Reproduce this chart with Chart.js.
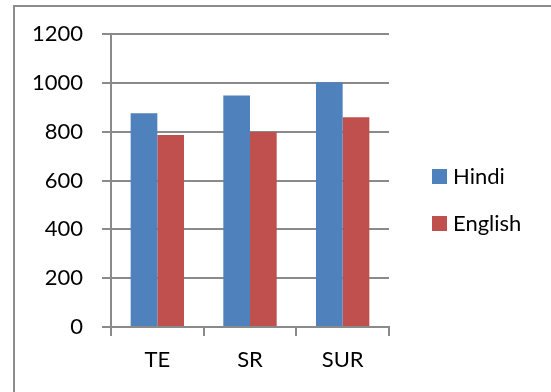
<!DOCTYPE html>
<html>
<head>
<meta charset="utf-8">
<script src="https://cdn.jsdelivr.net/npm/chart.js@4.4.1/dist/chart.umd.min.js"></script>
<style>
  html, body { margin: 0; padding: 0; background: #ffffff; }
  #wrap { position: relative; width: 551px; height: 392px; overflow: hidden; }
  #frame {
    position: absolute; left: 13px; top: 5px; width: 600px; height: 420px;
    border-left: 2px solid #8c8c8c; border-top: 2px solid #8c8c8c;
    box-sizing: border-box; pointer-events: none;
  }
  canvas { position: absolute; left: 0; top: 0; }
</style>
</head>
<body>
<div id="wrap">
  <div id="frame"></div>
  <canvas id="c" width="551" height="392"></canvas>
</div>
<script>
// Groups along the x axis
const categories = ['TE', 'SR', 'SUR'];
// Series
const seriesNames = ['Hindi', 'English'];
const hindiValues = [875, 948, 1002];
const englishValues = [786, 799, 859];
const seriesColors = ['#4F81BD', '#C0504D'];
// Value axis ticks
const yTicks = [0, 200, 400, 600, 800, 1000, 1200];

const FONT = 'Lato, "Open Sans", sans-serif';
const FONT_SIZE = 22;
const GRID = '#8a8a8a';

// Legend drawn beside the plot, using the datasets' own labels and colours
const sideLegend = {
  id: 'sideLegend',
  afterDraw(chart) {
    const ctx = chart.ctx;
    ctx.save();
    ctx.font = FONT_SIZE + 'px ' + FONT;
    ctx.textBaseline = 'middle';
    ctx.textAlign = 'left';
    chart.data.datasets.forEach((ds, i) => {
      const cy = 176 + i * 47;
      ctx.fillStyle = ds.backgroundColor;
      ctx.fillRect(432, cy - 7, 15, 15);
      ctx.fillStyle = '#000000';
      ctx.fillText(ds.label, 453, cy + 1);
    });
    ctx.restore();
  }
};

new Chart(document.getElementById('c'), {
  type: 'bar',
  data: {
    labels: categories,
    datasets: [
      { label: seriesNames[0], data: hindiValues, backgroundColor: seriesColors[0] },
      { label: seriesNames[1], data: englishValues, backgroundColor: seriesColors[1] }
    ]
  },
  options: {
    responsive: false,
    animation: false,
    devicePixelRatio: 1,
    layout: { padding: { left: 0, top: 34, right: 162, bottom: 15 } },
    datasets: { bar: { categoryPercentage: 0.576, barPercentage: 1.0, borderWidth: 0 } },
    plugins: { legend: { display: false }, tooltip: { enabled: false } },
    scales: {
      x: {
        offset: true,
        grid: {
          display: true, offset: true, drawOnChartArea: false, drawTicks: true,
          tickLength: 9, color: GRID, lineWidth: 2
        },
        border: { display: true, color: GRID, width: 2 },
        ticks: { color: '#000000', font: { family: FONT, size: FONT_SIZE }, padding: 11 },
        afterFit(scale) { scale.height = 50; }
      },
      y: {
        min: 0, max: 1200,
        afterBuildTicks(scale) { scale.ticks = yTicks.map(v => ({ value: v })); },
        grid: { color: GRID, lineWidth: 2, drawTicks: true, tickLength: 9 },
        border: { display: true, color: GRID, width: 2 },
        ticks: {
          color: '#000000', font: { family: FONT, size: FONT_SIZE }, padding: 19,
          callback: v => String(v)
        },
        afterFit(scale) { scale.width = 111; }
      }
    }
  },
  plugins: [sideLegend]
});
</script>
</body>
</html>
